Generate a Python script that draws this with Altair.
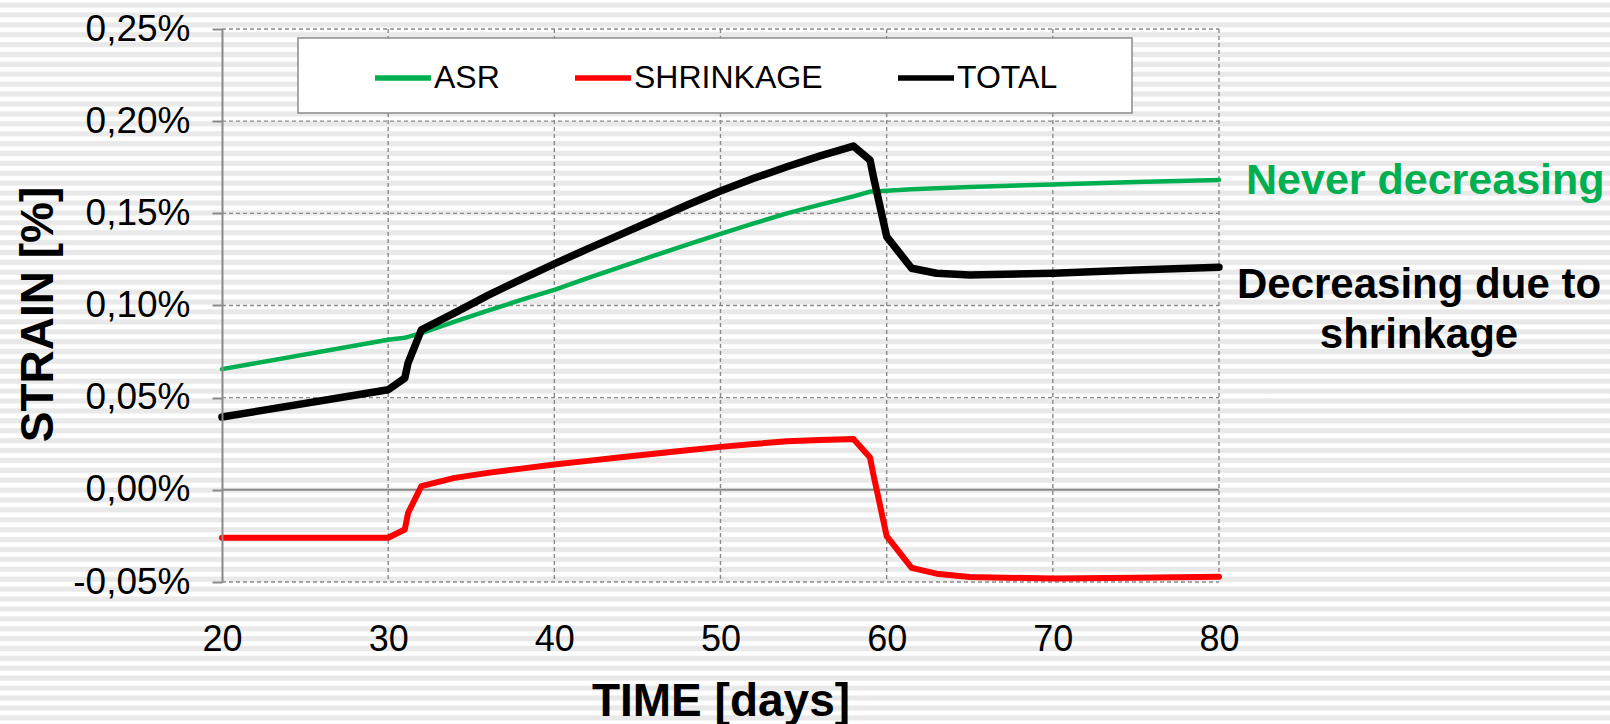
import altair as alt
import pandas as pd

# Time axis (days) shared by all three strain series
days = [20, 30, 31, 31.2, 32, 34, 36, 38, 40, 42, 44, 46, 48, 50, 52, 54, 56,
        58, 59, 59.2, 60, 61.5, 63, 65, 70, 75, 80]

# Strain in percent
asr = [0.0655, 0.0814, 0.0825, 0.0830, 0.0850, 0.0912, 0.0972, 0.1030, 0.1085,
       0.1148, 0.1210, 0.1270, 0.1330, 0.1388, 0.1445, 0.1500, 0.1547, 0.1592,
       0.1618, 0.1619, 0.1623, 0.1630, 0.1636, 0.1643, 0.1657, 0.1670, 0.1681]
shrinkage = [-0.0260, -0.0260, -0.0215, -0.0125, 0.0020, 0.0065, 0.0092, 0.0115,
             0.0137, 0.0157, 0.0177, 0.0196, 0.0215, 0.0233, 0.0249, 0.0263,
             0.0271, 0.0276, 0.0175, 0.0083, -0.0251, -0.0423, -0.0455, -0.0473,
             -0.0481, -0.0477, -0.0471]
total = [0.0395, 0.0543, 0.0606, 0.0689, 0.0868, 0.0960, 0.1055, 0.1142, 0.1226,
         0.1307, 0.1386, 0.1465, 0.1545, 0.1621, 0.1690, 0.1753, 0.1812, 0.1865,
         0.1789, 0.1700, 0.1374, 0.1202, 0.1175, 0.1166, 0.1175, 0.1192, 0.1208]

series_names = ["ASR", "SHRINKAGE", "TOTAL"]
series_colors = ["#00B050", "#FF0000", "#000000"]
series_widths = [4.5, 6, 7.5]

x_ticks = [20, 30, 40, 50, 60, 70, 80]
y_ticks = [-0.05, 0.0, 0.05, 0.10, 0.15, 0.20, 0.25]

W, H = 997, 553
PAD = {"left": 222, "top": 29, "right": 391, "bottom": 142}
FONT = "Liberation Sans"
GRID = "#8a8a8a"

rows = []
for name, vals in zip(series_names, [asr, shrinkage, total]):
    for d, v in zip(days, vals):
        rows.append({"day": d, "strain": v, "series": name})
df = pd.DataFrame(rows)

x_scale = alt.Scale(domain=[20, 80], nice=False, zero=False)
y_scale = alt.Scale(domain=[-0.05, 0.25], nice=False, zero=False)

# Striped backdrop across the whole canvas
total_h = PAD["top"] + H + PAD["bottom"]
stops = [alt.GradientStop(offset=0, color="#ffffff")]
c = 5.0
while c + 3.2 < total_h:
    for off, col in [(c - 3.2, "#ffffff"), (c - 2.0, "#e9e9e9"),
                     (c + 2.0, "#e9e9e9"), (c + 3.2, "#ffffff")]:
        stops.append(alt.GradientStop(offset=off / total_h, color=col))
    c += 9.9
stops.append(alt.GradientStop(offset=1, color="#ffffff"))
stripes = alt.LinearGradient(gradient="linear", stops=stops, x1=0, x2=0, y1=0, y2=1)

one = alt.Data(values=[{"k": 0}])
backdrop = alt.Chart(one).mark_rect(fill=stripes, clip=False).encode(
    x=alt.value(-PAD["left"]), x2=alt.value(W + PAD["right"]),
    y=alt.value(-PAD["top"]), y2=alt.value(H + PAD["bottom"]),
)

vgrid = alt.Chart(pd.DataFrame({"day": x_ticks[1:]})).mark_rule(
    color=GRID, strokeWidth=1.4, strokeDash=[4, 3]
).encode(x=alt.X("day:Q", scale=x_scale), y=alt.value(0), y2=alt.value(H))

hgrid = alt.Chart(pd.DataFrame({"strain": [v for v in y_ticks if v != 0]})).mark_rule(
    color=GRID, strokeWidth=1.4, strokeDash=[4, 3]
).encode(y=alt.Y("strain:Q", scale=y_scale), x=alt.value(0), x2=alt.value(W))

zero_line = alt.Chart(pd.DataFrame({"strain": [0.0]})).mark_rule(
    color=GRID, strokeWidth=2
).encode(y=alt.Y("strain:Q", scale=y_scale), x=alt.value(0), x2=alt.value(W))

legend_frame = alt.Chart(one).mark_rect(
    fill="white", stroke="#8a8a8a", strokeWidth=1.5
).encode(x=alt.value(76), x2=alt.value(910), y=alt.value(9), y2=alt.value(84))

x_enc = alt.X("day:Q", scale=x_scale,
              axis=alt.Axis(values=x_ticks, domain=False, ticks=False, tickSize=0,
                            grid=False, labelPadding=40, labelFontSize=36,
                            labelFont=FONT, labelColor="black", labelFlush=False,
                            title="TIME [days]", titleFontSize=46, titleFont=FONT,
                            titleFontWeight="bold", titleColor="black",
                            titleBaseline="alphabetic", titleY=133, zindex=1))
y_enc = alt.Y("strain:Q", scale=y_scale,
              axis=alt.Axis(values=y_ticks, grid=False, domainColor=GRID,
                            domainWidth=2, tickColor=GRID, tickWidth=2, tickSize=10,
                            labelPadding=22, labelFontSize=37, labelFont=FONT,
                            labelColor="black", labelFlush=False,
                            labelExpr="replace(replace(format(datum.value, '.2f'), '.', ','), '\u2212', '-') + '%'",
                            title="STRAIN [%]", titleFontSize=46, titleFont=FONT,
                            titleFontWeight="bold", titleColor="black",
                            titleAngle=270, titleX=-170, titleY=285,
                            titleBaseline="alphabetic", titleAlign="center",
                            zindex=1))
color_enc = alt.Color("series:N",
                      scale=alt.Scale(domain=series_names, range=series_colors),
                      legend=alt.Legend(orient="none", legendX=150, legendY=18,
                                        direction="horizontal", title=None,
                                        symbolType="stroke", symbolSize=3136,
                                        symbolStrokeWidth=5.5, labelFontSize=32,
                                        labelFont=FONT, labelColor="black",
                                        labelOffset=0, labelLimit=0,
                                        columnPadding=64, padding=0))

# One line layer per series so each keeps its own stroke weight
line_layers = []
for name, sw in zip(series_names, series_widths):
    line_layers.append(
        alt.Chart(df).transform_filter(alt.datum.series == name)
        .mark_line(strokeWidth=sw, strokeJoin="round", strokeCap="round")
        .encode(x=x_enc, y=y_enc, color=color_enc, order="day:Q")
    )

notes = pd.DataFrame([
    {"day": days[-1], "strain": asr[-1], "label": "Never decreasing"},
])
note_green = alt.Chart(notes).mark_text(
    align="left", baseline="alphabetic", dx=27, dy=14, font=FONT,
    fontSize=43, fontWeight="bold", color="#00B050"
).encode(x=alt.X("day:Q", scale=x_scale), y=alt.Y("strain:Q", scale=y_scale),
         text="label:N")

notes2 = pd.DataFrame([
    {"day": days[-1], "strain": total[-1], "label": "Decreasing due to\nshrinkage"},
])
note_black = alt.Chart(notes2).mark_text(
    align="center", baseline="alphabetic", dx=200, dy=31, lineBreak="\n",
    lineHeight=50, font=FONT, fontSize=42, fontWeight="bold", color="black"
).encode(x=alt.X("day:Q", scale=x_scale), y=alt.Y("strain:Q", scale=y_scale),
         text="label:N")

chart = alt.layer(
    backdrop, vgrid, hgrid, legend_frame, zero_line, *line_layers,
    note_green, note_black
).properties(
    width=W, height=H,
    autosize=alt.AutoSizeParams(type="none"),
    padding=PAD,
    background="white",
).configure_view(stroke=None)

chart.save("out.html", embed_options={"renderer": "svg", "actions": False})
